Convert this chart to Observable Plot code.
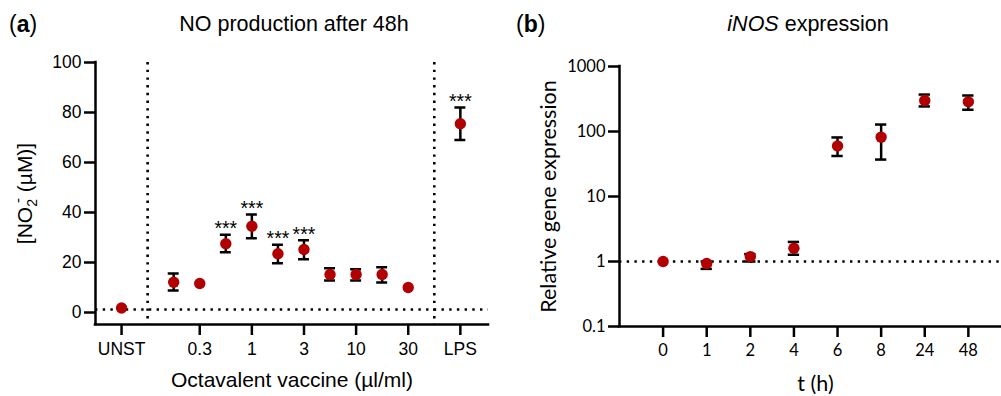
<!DOCTYPE html>
<html><head><meta charset="utf-8">
<script src="https://cdn.jsdelivr.net/npm/d3@7"></script>
<script src="https://cdn.jsdelivr.net/npm/@observablehq/plot@0.6"></script>
<style>
body{margin:0;background:#fff;}
#wrap{position:relative;width:1001px;height:396px;overflow:hidden;font-family:"Liberation Sans",Arial,sans-serif;color:#000;}
.ttl{position:absolute;white-space:nowrap;line-height:1;}
.panel{position:absolute;top:40px;}
</style></head><body><div id="wrap">
<div class="ttl" style="left:9px;top:13px;font-size:23px;">(<b>a</b>)</div>
<div class="ttl" style="left:294px;top:14px;font-size:21.5px;transform:translateX(-50%);">NO production after 48h</div>
<div class="ttl" style="left:516px;top:13px;font-size:23px;">(<b>b</b>)</div>
<div class="ttl" style="left:808px;top:14px;font-size:21.5px;transform:translateX(-50%);"><i>iNOS</i> expression</div>
<div class="panel" id="pa" style="left:0px;"></div>
<div class="panel" id="pb" style="left:500px;"></div>
</div>
<script>
// ---------- Panel (a) data ----------
const aSlots = ["UNST", "sep1", "0.15", "0.3", "0.6", "1", "1.5", "3", "6", "10", "15", "30", "sep2", "LPS"];
const aGroups = ["UNST", "0.15", "0.3", "0.6", "1", "1.5", "3", "6", "10", "15", "30", "LPS"];
const aMean = [1.8, 12.1, 11.6, 27.5, 34.5, 23.5, 25.2, 15.2, 15.2, 15.2, 10.0, 75.5];
const aLow  = [null, 8.8, null, 24.1, 29.7, 19.7, 21.3, 12.8, 12.8, 12.0, null, 69.0];
const aHigh = [null, 15.6, null, 31.1, 39.2, 27.1, 28.9, 17.7, 17.3, 18.1, null, 82.0];
const aStars = ["", "", "", "***", "***", "***", "***", "", "", "", "", "***"];
const aTickLabels = ["UNST", "0.3", "1", "3", "10", "30", "LPS"];
const aYTicks = [0, 20, 40, 60, 80, 100];
const aSeparators = ["sep1", "sep2"];
const aBaseline = 1.2;

// ---------- Panel (b) data ----------
const bTimes = ["0", "1", "2", "4", "6", "8", "24", "48"];
const bMean = [1.0, 0.93, 1.19, 1.6, 60, 82, 300, 286];
const bLow  = [null, 0.77, 1.0, 1.27, 42, 37, 243, 216];
const bHigh = [null, 1.0, 1.3, 2.0, 81, 128, 370, 358];
const bYTicks = [0.1, 1, 10, 100, 1000];
const bBaseline = 1;

const RED = "#b20000";
const AX = 2.5;
const DOT = "2.4,5.3";
const DW = 2.6;

// ---------- Panel (a) ----------
const aData = aGroups.map((g, i) => ({g, x: aSlots.indexOf(g), y: aMean[i], lo: aLow[i], hi: aHigh[i], star: aStars[i]}));
const aErr = aData.filter(d => d.lo != null);
const capA = 0.21;
const fontA = "Liberation Sans, Arial, sans-serif";
const plotA = Plot.plot({
  width: 500, height: 356,
  marginTop: 22, marginBottom: 72, marginLeft: 95, marginRight: 12,
  style: {fontFamily: fontA, fontSize: "17.5px", color: "#000", background: "transparent", overflow: "visible"},
  x: {domain: [-1, 14.08]},
  y: {domain: [-4.8, 100]},
  marks: [
    Plot.ruleX(aSeparators.map(s => aSlots.indexOf(s)), {strokeDasharray: DOT, strokeWidth: DW}),
    Plot.ruleY([aBaseline], {strokeDasharray: DOT, strokeWidth: DW}),
    Plot.axisY({ticks: aYTicks, tickSize: 11, tickPadding: 3, strokeWidth: AX, label: null, fontSize: 17.5}),
    Plot.axisX({ticks: aTickLabels.map(l => aSlots.indexOf(l)), tickFormat: i => aSlots[i], tickSize: 11, tickPadding: 7, strokeWidth: AX, label: null, fontSize: 17.5}),
    Plot.ruleX([-1], {strokeWidth: AX, strokeLinecap: "square"}),
    Plot.ruleY([-4.8], {strokeWidth: AX, strokeLinecap: "square"}),
    Plot.ruleX(aErr, {x: "x", y1: "lo", y2: "hi", strokeWidth: 2.5}),
    Plot.ruleY(aErr, {y: "hi", x1: d => d.x - capA, x2: d => d.x + capA, strokeWidth: 2.5}),
    Plot.ruleY(aErr, {y: "lo", x1: d => d.x - capA, x2: d => d.x + capA, strokeWidth: 2.5}),
    Plot.dot(aData, {x: "x", y: "y", r: 5.7, fill: RED}),
    Plot.text(aData.filter(d => d.star), {x: "x", y: d => d.hi ?? d.y, text: "star", dy: -6, fontSize: 19.5}),
    Plot.text(["[NO2- (µM)]"], {frameAnchor: "left", textAnchor: "middle", rotate: -90, dx: -70, fontSize: 21}),
    Plot.text(["Octavalent vaccine (µl/ml)"], {frameAnchor: "bottom", dy: 62, fontSize: 21})
  ]
});
document.getElementById("pa").appendChild(plotA);
// subscript / superscript in y label
d3.select(plotA).selectAll("text").filter(function() { return this.textContent === "[NO2- (µM)]"; })
  .each(function() {
    const t = d3.select(this).text(null);
    t.append("tspan").text("[NO");
    t.append("tspan").attr("dy", 5).attr("font-size", 14).text("2");
    t.append("tspan").attr("dx", -4).attr("dy", -14).attr("font-size", 15).text("-");
    t.append("tspan").attr("dy", 9).text(" (µM)]");
  });

// ---------- Panel (b) ----------
const bData = bTimes.map((t, i) => ({t, x: i, y: bMean[i], lo: bLow[i], hi: bHigh[i]}));
const bErr = bData.filter(d => d.lo != null);
const capB = 0.13;
const fontB = "Lato, 'Open Sans', sans-serif";
const plotB = Plot.plot({
  width: 501, height: 356,
  marginTop: 26, marginBottom: 70, marginLeft: 119, marginRight: 0,
  style: {fontFamily: fontB, fontSize: "16.5px", color: "#000", background: "transparent", overflow: "visible"},
  x: {domain: [-1, 7.76]},
  y: {type: "log", domain: [0.1, 1000]},
  marks: [
    Plot.ruleY([bBaseline], {strokeDasharray: DOT, strokeWidth: DW}),
    Plot.axisY({ticks: bYTicks, tickFormat: d => String(d), tickSize: 11, tickPadding: 3, strokeWidth: AX, label: null, fontSize: 16.5}),
    Plot.axisX({ticks: bTimes.map((t, i) => i), tickFormat: i => bTimes[i], tickSize: 11, tickPadding: 7, strokeWidth: AX, label: null, fontSize: 16.5}),
    Plot.ruleX([-1], {strokeWidth: AX, strokeLinecap: "square"}),
    Plot.ruleY([0.1], {strokeWidth: AX, strokeLinecap: "square"}),
    Plot.ruleX(bErr, {x: "x", y1: "lo", y2: "hi", strokeWidth: 2.5}),
    Plot.ruleY(bErr, {y: "hi", x1: d => d.x - capB, x2: d => d.x + capB, strokeWidth: 2.5}),
    Plot.ruleY(bErr, {y: "lo", x1: d => d.x - capB, x2: d => d.x + capB, strokeWidth: 2.5}),
    Plot.dot(bData, {x: "x", y: "y", r: 5.7, fill: RED}),
    Plot.text(["Relative gene expression"], {frameAnchor: "left", textAnchor: "middle", rotate: -90, dx: -70, fontSize: 21.5}),
    Plot.text(["t (h)"], {frameAnchor: "bottom", dx: 5, dy: 64, fontSize: 21.5})
  ]
});
document.getElementById("pb").appendChild(plotB);
</script>
</body></html>
